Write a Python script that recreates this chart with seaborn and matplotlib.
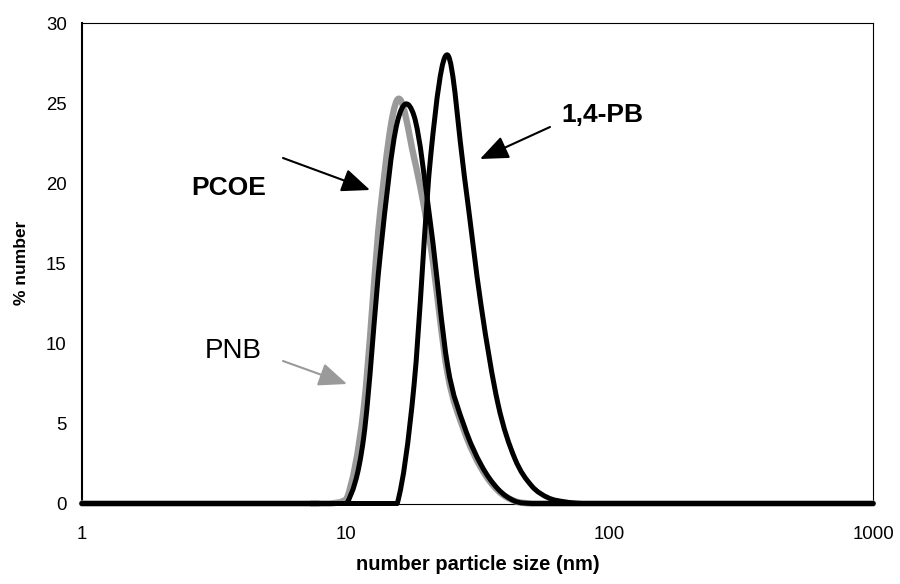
import numpy as np
import pandas as pd
import seaborn as sns
import matplotlib.pyplot as plt
from matplotlib.path import Path
from matplotlib.transforms import Affine2D
from matplotlib import patheffects

# Number-weighted size distributions on the instrument's size classes (nm, %)
size_pnb = [1, 6.503, 7.531, 8.721, 10.1, 11.7, 13.54, 15.69, 18.17, 21.04, 24.36,
            28.21, 32.67, 37.84, 43.82, 50.75, 58.77, 100, 1000]
pct_pnb = [0, 0, 0, 0, 0.3, 5.9, 18.3, 25.2, 21.6, 16.0, 8.1,
           4.5, 2.2, 0.8, 0.15, 0, 0, 0, 0]

size_pcoe = [1, 6.503, 7.531, 8.721, 10.1, 11.7, 13.54, 15.69, 18.17, 21.04, 24.36,
             28.21, 32.67, 37.84, 43.82, 50.75, 58.77, 100, 1000]
pct_pcoe = [0, 0, 0, 0, 0, 4.1, 15.6, 23.8, 24.2, 17.3, 8.6,
            4.8, 2.4, 0.9, 0.15, 0, 0, 0, 0]

size_pb = [1, 10.1, 11.7, 13.54, 15.69, 18.17, 21.04, 24.36, 28.21, 32.67, 37.84,
           43.82, 50.75, 58.77, 68.06, 78.82, 91.28, 105.7, 1000]
pct_pb = [0, 0, 0, 0, 0, 7.4, 21.8, 28.0, 20.4, 12.3, 6.2,
          2.8, 1.1, 0.35, 0.1, 0, 0, 0, 0]

x_ticks = [1, 10, 100, 1000]
x_ticklabels = ["1", "10", "100", "1000"]
y_ticks = [0, 5, 10, 15, 20, 25, 30]


class SmoothedLine(patheffects.AbstractPathEffect):
    """Draw a polyline as a smoothed Bezier curve through its vertices,
    never dipping below the lower end of each segment."""

    def draw_path(self, renderer, gc, tpath, affine, rgbFace=None):
        pts = affine.transform(tpath.vertices)
        n = len(pts)
        verts = [pts[0]]
        codes = [Path.MOVETO]
        for i in range(n - 1):
            p0 = pts[i - 1] if i > 0 else pts[i]
            p1 = pts[i]
            p2 = pts[i + 1]
            p3 = pts[i + 2] if i + 2 < n else pts[i + 1]
            c1 = p1 + (p2 - p0) / 6.0
            c2 = p2 - (p3 - p1) / 6.0
            low = min(p1[1], p2[1])
            c1[1] = max(c1[1], low)
            c2[1] = max(c2[1], low)
            verts += [c1, c2, p2]
            codes += [Path.CURVE4] * 3
        renderer.draw_path(gc, Path(np.array(verts), codes), Affine2D(), rgbFace)


sns.set_theme(style="white")
plt.rcParams["font.family"] = ["Liberation Sans", "DejaVu Sans"]
plt.rcParams["text.color"] = "black"
plt.rcParams["axes.labelcolor"] = "black"

fig = plt.figure(figsize=(9, 5.84), dpi=100)
ax = fig.add_axes([82 / 900, 1 - 503.5 / 584, (873 - 82) / 900, (503.5 - 23) / 584])

series = [
    ("PNB", size_pnb, pct_pnb, "#9a9a9a", 4.6, 3),
    ("PCOE", size_pcoe, pct_pcoe, "black", 3.6, 4),
    ("1,4-PB", size_pb, pct_pb, "black", 3.6, 5),
]
for name, xs, ys, col, lw, z in series:
    df = pd.DataFrame({"size": xs, "pct": ys})
    sns.lineplot(data=df, x="size", y="pct", ax=ax, color=col, lw=lw,
                 sort=False, estimator=None, zorder=z, clip_on=False,
                 solid_joinstyle="round", solid_capstyle="round",
                 path_effects=[SmoothedLine()])

ax.set_xscale("log")
ax.set_xlim(1, 1000)
ax.set_ylim(0, 30)
ax.set_xticks(x_ticks)
ax.set_xticklabels(x_ticklabels)
ax.set_yticks(y_ticks)
ax.xaxis.set_minor_locator(plt.NullLocator())

ax.tick_params(axis="both", which="major", direction="out", length=5,
               width=0.8, color="black", labelsize=13.4, labelcolor="black")
ax.tick_params(axis="x", pad=11)
ax.tick_params(axis="y", pad=6)

for side in ["top", "right", "bottom"]:
    ax.spines[side].set_visible(True)
    ax.spines[side].set_color("black")
    ax.spines[side].set_linewidth(0.8)
ax.spines["left"].set_color("black")
ax.spines["left"].set_linewidth(1.5)

ax.set_xlabel("number particle size (nm)", fontsize=14.5, fontweight="bold", labelpad=9)
ax.set_ylabel("% number", fontsize=12.5, fontweight="bold", labelpad=12)

# Series labels with pointer arrows (figure pixel positions)
H = 584
arrow_black = dict(arrowstyle="-|>,head_length=1.45,head_width=0.6", color="black",
                   lw=1.5, shrinkA=0, shrinkB=0)
arrow_grey = dict(arrowstyle="-|>,head_length=1.45,head_width=0.6", color="#9a9a9a",
                  lw=1.5, shrinkA=0, shrinkB=0)
ax.annotate("", xy=(370, H - 190), xytext=(283, H - 158), xycoords="figure pixels",
            textcoords="figure pixels", arrowprops=arrow_black, annotation_clip=False)
ax.annotate("", xy=(480, H - 159), xytext=(550, H - 127), xycoords="figure pixels",
            textcoords="figure pixels", arrowprops=arrow_black, annotation_clip=False)
ax.annotate("", xy=(347, H - 384), xytext=(283, H - 361), xycoords="figure pixels",
            textcoords="figure pixels", arrowprops=arrow_grey, annotation_clip=False)

fig.text(229 / 900, 1 - 194.5 / H, "PCOE", fontsize=19, fontweight="bold",
         ha="center", va="baseline")
fig.text(602 / 900, 1 - 122.5 / H, "1,4-PB", fontsize=19, fontweight="bold",
         ha="center", va="baseline")
fig.text(233.5 / 900, 1 - 358 / H, "PNB", fontsize=20, ha="center", va="baseline")

fig.savefig("out.png", dpi=100)
